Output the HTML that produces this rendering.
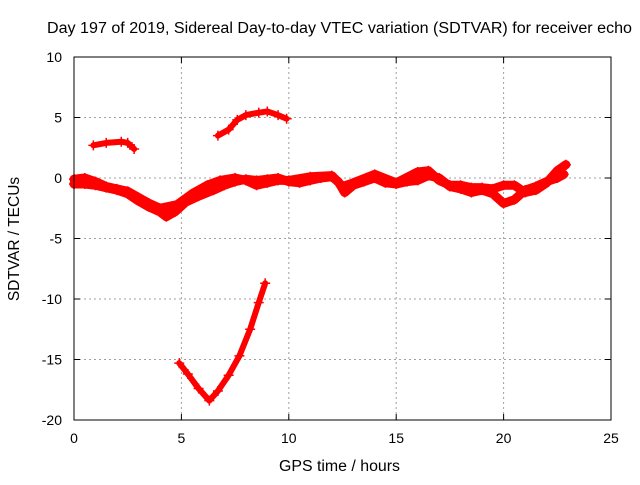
<!DOCTYPE html>
<html><head><meta charset="utf-8"><style>
html,body{margin:0;padding:0;background:#fff}
svg text{font-family:"Liberation Sans",sans-serif;font-size:14px;fill:#000}
</style></head><body>
<svg id="chart" width="640" height="480" viewBox="0 0 640 480" xmlns="http://www.w3.org/2000/svg">
<rect width="640" height="480" fill="#fff"/>
<text x="47" y="33" style="font-size:15.5px" textLength="585" lengthAdjust="spacingAndGlyphs">Day 197 of 2019, Sidereal Day-to-day VTEC variation (SDTVAR) for receiver echo</text>
<g id="grid"></g>
<g id="ticks"></g>
<g id="series"></g>
<rect x="74" y="57" width="537" height="363" fill="none" stroke="#000" stroke-width="1"/>
<text x="279" y="471" style="font-size:15.5px" textLength="121" lengthAdjust="spacingAndGlyphs">GPS time / hours</text>
<text transform="translate(19,239) rotate(-90)" text-anchor="middle" style="font-size:15.5px">SDTVAR / TECUs</text>
</svg>
<script>
const xTicks=[0,5,10,15,20,25];
const yTicks=[-20,-15,-10,-5,0,5,10];
const trackA=[[0.9,2.7],[1.5,2.9],[2.2,3.0],[2.5,2.9],[2.8,2.4]];
const trackB=[[6.7,3.5],[7.2,4.0],[7.6,4.8],[8.0,5.2],[8.6,5.4],[9.0,5.5],[9.5,5.2],[9.9,4.9]];
const trackC=[[4.9,-15.3],[5.3,-16.2],[5.8,-17.4],[6.3,-18.4],[6.7,-17.6],[7.2,-16.3],[7.7,-14.7],[8.2,-12.5],[8.6,-10.3],[8.9,-8.7]];
const trackD=[[0,-0.5],[0.5,-0.5],[1,-0.6],[1.5,-0.8],[2,-1.0],[2.5,-1.3],[3,-1.9],[3.5,-2.4],[4,-2.8],[4.3,-3.2],[4.7,-2.8],[5.2,-2.0],[5.8,-1.5],[6.5,-1.0],[7,-0.6],[7.5,-0.3],[8,-0.1],[8.5,-0.2],[9,-0.1],[9.5,0],[10,-0.3],[10.5,-0.4],[11,-0.2],[11.5,0],[12,0.1],[12.3,-0.3],[12.6,-1.2],[13,-0.6],[13.5,-0.3],[14,0],[14.5,-0.4],[15,-0.5],[15.5,-0.3],[16,-0.2],[16.5,0.2],[17,0],[17.5,-0.7],[18,-0.9],[18.5,-1.2],[19,-1.0],[19.5,-1.3],[20,-2.1],[20.5,-1.8],[21,-1.0],[21.5,-0.7],[22,-0.3],[22.5,0],[22.8,0.3]];
const trackE=[[0,-0.1],[0.5,0],[1,-0.3],[1.5,-0.7],[2,-0.9],[2.5,-1.1],[3,-1.6],[3.5,-2.1],[4,-2.5],[4.8,-2.2],[5.5,-1.3],[6.2,-0.6],[6.8,-0.2],[7.5,0],[8,-0.2],[8.5,-0.6],[9,-0.4],[9.5,-0.2],[10,-0.2],[11,0.1],[12,0.2],[12.5,-0.7],[13,-0.4],[14,0.3],[15,-0.4],[16,0.5],[16.5,0.6],[17,-0.2],[17.5,-0.6],[18,-0.6],[18.5,-0.8],[19,-0.8],[19.5,-0.9],[20,-0.6],[20.5,-0.6],[21,-1.2],[21.5,-1.0],[22,-0.4],[22.5,0.6],[22.9,1.1]];
const tracks=[trackA,trackB,trackC,trackD,trackE];
const X0=74,X1=611,Y0=420,Y1=57;
function xs(t){return X0+(t-0)/25*(X1-X0);}
function ys(v){return Y0-(v+20)/30*(Y0-Y1);}
const NS="http://www.w3.org/2000/svg";
function mk(tag,attrs,parent){const e=document.createElementNS(NS,tag);for(const k in attrs)e.setAttribute(k,attrs[k]);parent.appendChild(e);return e;}
const grid=document.getElementById('grid'),ticks=document.getElementById('ticks'),series=document.getElementById('series');
xTicks.forEach(t=>{
  const x=xs(t);
  if(t>0&&t<25){const g=mk('line',{x1:x,x2:x,y1:Y1,y2:Y0,stroke:'#a0a0a0','stroke-dasharray':'2,3'},grid);
  
  }
  mk('line',{x1:x,x2:x,y1:Y0,y2:Y0-6,stroke:'#000'},ticks);
  mk('line',{x1:x,x2:x,y1:Y1,y2:Y1+6,stroke:'#000'},ticks);
  const l=mk('text',{x:x,y:443,'text-anchor':'middle'},ticks);l.textContent=t;
  
  
});
yTicks.forEach(v=>{
  const y=ys(v);
  if(v>-20&&v<10){const g=mk('line',{x1:X0,x2:X1,y1:y,y2:y,stroke:'#a0a0a0','stroke-dasharray':'2,3'},grid);
  
  }
  mk('line',{x1:X0,x2:X0+6,y1:y,y2:y,stroke:'#000'},ticks);
  mk('line',{x1:X1,x2:X1-6,y1:y,y2:y,stroke:'#000'},ticks);
  const l=mk('text',{x:62,y:y+5,'text-anchor':'end'},ticks);l.textContent=v;
  
  
});
tracks.forEach((tr,i)=>{
  const pts=tr.map(p=>xs(p[0])+','+ys(p[1])).join(' ');
  const pl=mk('polyline',{points:pts,fill:'none',stroke:'#ff0000','stroke-width':(i>=3?9:6),'stroke-linejoin':'round','stroke-linecap':'round'},series);
  
  
  tr.forEach(p=>{
    const x=xs(p[0]),y=ys(p[1]);
    const m=mk('path',{d:`M${x-5},${y}H${x+5}M${x},${y-5}V${y+5}`,stroke:'#ff0000','stroke-width':1.5},series);
    
    
  });
});
</script>
</body></html>
